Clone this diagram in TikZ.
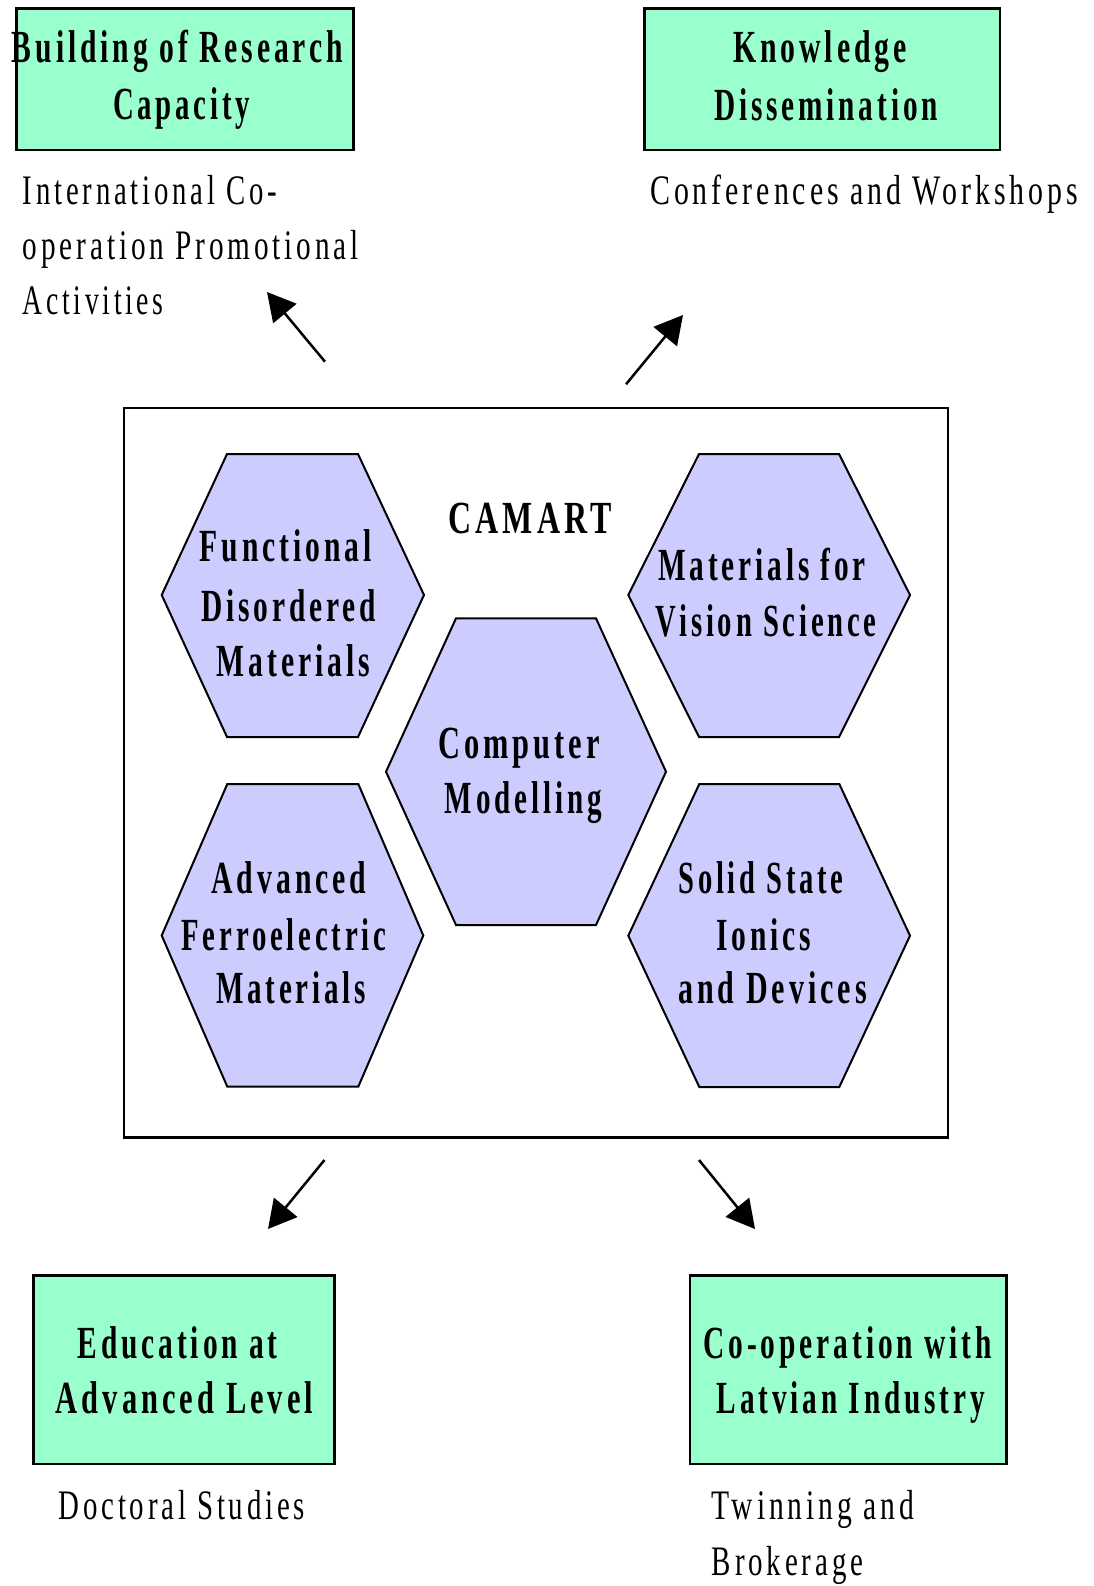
\documentclass[tikz,border=0pt]{standalone}
\usepackage{fontspec}
\usepackage{graphicx}
\setmainfont{Liberation Serif}
\newfontfamily\dfont[FakeStretch=0.68,LetterSpace=9]{Liberation Serif}
\usetikzlibrary{arrows.meta}
\definecolor{boxgreen}{RGB}{153,255,204}
\definecolor{hexblue}{RGB}{204,204,255}
\newcommand{\fitw}[2]{\resizebox{#1pt}{\height}{#2}}
\tikzset{
  greenbox/.style={draw=black,fill=boxgreen,line width=2.6pt},
  hexbox/.style={draw=black,fill=hexblue,line width=2pt,line join=miter},
  mainbox/.style={draw=black,line width=2.4pt},
  bt/.style={inner sep=0pt,anchor=base,font=\dfont\bfseries\fontsize{46}{56}\selectfont},
  rt/.style={inner sep=0pt,anchor=base west,font=\dfont\fontsize{42}{55}\selectfont},
  bigarrow/.style={line width=2.5pt,-{Triangle[length=28pt,width=30pt]}}
}
\begin{document}
\begin{tikzpicture}[x=1pt,y=-1pt]
\useasboundingbox (0,0) rectangle (1093,1586);
% boxes
\draw[greenbox] (16.7,8.3) rectangle (353.3,150);
\draw[greenbox] (644.3,8.3) rectangle (1000,150);
\draw[greenbox] (33.3,1275.7) rectangle (334.3,1464);
\draw[greenbox] (690,1275.7) rectangle (1006.7,1464);
\draw[mainbox] (124,407.7) rectangle (947.7,1137.3);
% hexagons
\draw[hexbox] (161.7,595) -- (227,454) -- (358,454) -- (424,595) -- (358,737) -- (227,737) -- cycle;
\draw[hexbox] (628.3,595) -- (699,454) -- (839,454) -- (910,595) -- (839,737) -- (699,737) -- cycle;
\draw[hexbox] (386,771.7) -- (456,618.3) -- (596,618.3) -- (666,771.7) -- (596,925) -- (456,925) -- cycle;
\draw[hexbox] (161.7,935.5) -- (227.3,784) -- (358.3,784) -- (423.3,935.5) -- (358.3,1086.7) -- (227.3,1086.7) -- cycle;
\draw[hexbox] (628.3,935.7) -- (699.3,784) -- (839.3,784) -- (910,935.7) -- (839.3,1087) -- (699.3,1087) -- cycle;
% box texts
\node[bt] (b1a) at (177.5,63) {\fitw{331}{Building of Research}};
\node[bt] (b1b) at (181.7,120) {\fitw{137}{Capacity}};
\node[bt] (b2a) at (820,63) {\fitw{174}{Knowledge}};
\node[bt] (b2b) at (826,121) {\fitw{224}{Dissemination}};
\node[bt] (b3a) at (177.7,1358.3) {\fitw{200}{Education at}};
\node[bt] (b3b) at (184.5,1413.3) {\fitw{257.6}{Advanced Level}};
\node[bt] (b4a) at (847.5,1358.3) {\fitw{288.4}{Co-operation with}};
\node[bt] (b4b) at (851,1413.3) {\fitw{268.3}{Latvian Industry}};
% plain texts
\node[rt] (t1a) at (22.7,205) {\fitw{254}{International Co-}};
\node[rt] (t1b) at (22.7,260) {\fitw{335.7}{operation Promotional}};
\node[rt] (t1c) at (22.7,315) {\fitw{140.7}{Activities}};
\node[rt] (t2a) at (650,205) {\fitw{428}{Conferences and Workshops}};
\node[rt] (t3a) at (58.3,1519.3) {\fitw{246.7}{Doctoral Studies}};
\node[rt] (t4a) at (711.7,1519.3) {\fitw{202.3}{Twinning and}};
\node[rt] (t4b) at (711.7,1575) {\fitw{151.3}{Brokerage}};
% CAMART
\node[bt] (camart) at (530,533.3) {\fitw{163.7}{CAMART}};
% hexagon texts
\node[bt] (h1a) at (285.8,561.7) {\fitw{171.7}{Functional}};
\node[bt] (h1b) at (288.5,621.7) {\fitw{175}{Disordered}};
\node[bt] (h1c) at (293.3,676.7) {\fitw{153.3}{Materials}};
\node[bt] (h2a) at (762,580) {\fitw{207.7}{Materials for}};
\node[bt] (h2b) at (766.3,636.7) {\fitw{220.7}{Vision Science}};
\node[bt] (h3a) at (519,758.3) {\fitw{161.7}{Computer}};
\node[bt] (h3b) at (523.3,813.3) {\fitw{156.7}{Modelling}};
\node[bt] (h4a) at (289,893.3) {\fitw{155}{Advanced}};
\node[bt] (h4b) at (284,950) {\fitw{205}{Ferroelectric}};
\node[bt] (h4c) at (291,1003.3) {\fitw{150}{Materials}};
\node[bt] (h5a) at (761,893.3) {\fitw{165}{Solid State}};
\node[bt] (h5b) at (764,950) {\fitw{95}{Ionics}};
\node[bt] (h5c) at (772.5,1003.3) {\fitw{188.4}{and Devices}};
% arrows
\coordinate (a1s) at (325,361.7);
\coordinate (a1e) at (267,292);
\coordinate (a2s) at (626,384.3);
\coordinate (a2e) at (683,315);
\coordinate (a3s) at (324.5,1160);
\coordinate (a3e) at (268,1229);
\coordinate (a4s) at (699,1160);
\coordinate (a4e) at (755,1229);
\draw[bigarrow] (a1s) -- (a1e);
\draw[bigarrow] (a2s) -- (a2e);
\draw[bigarrow] (a3s) -- (a3e);
\draw[bigarrow] (a4s) -- (a4e);
\end{tikzpicture}
\end{document}
